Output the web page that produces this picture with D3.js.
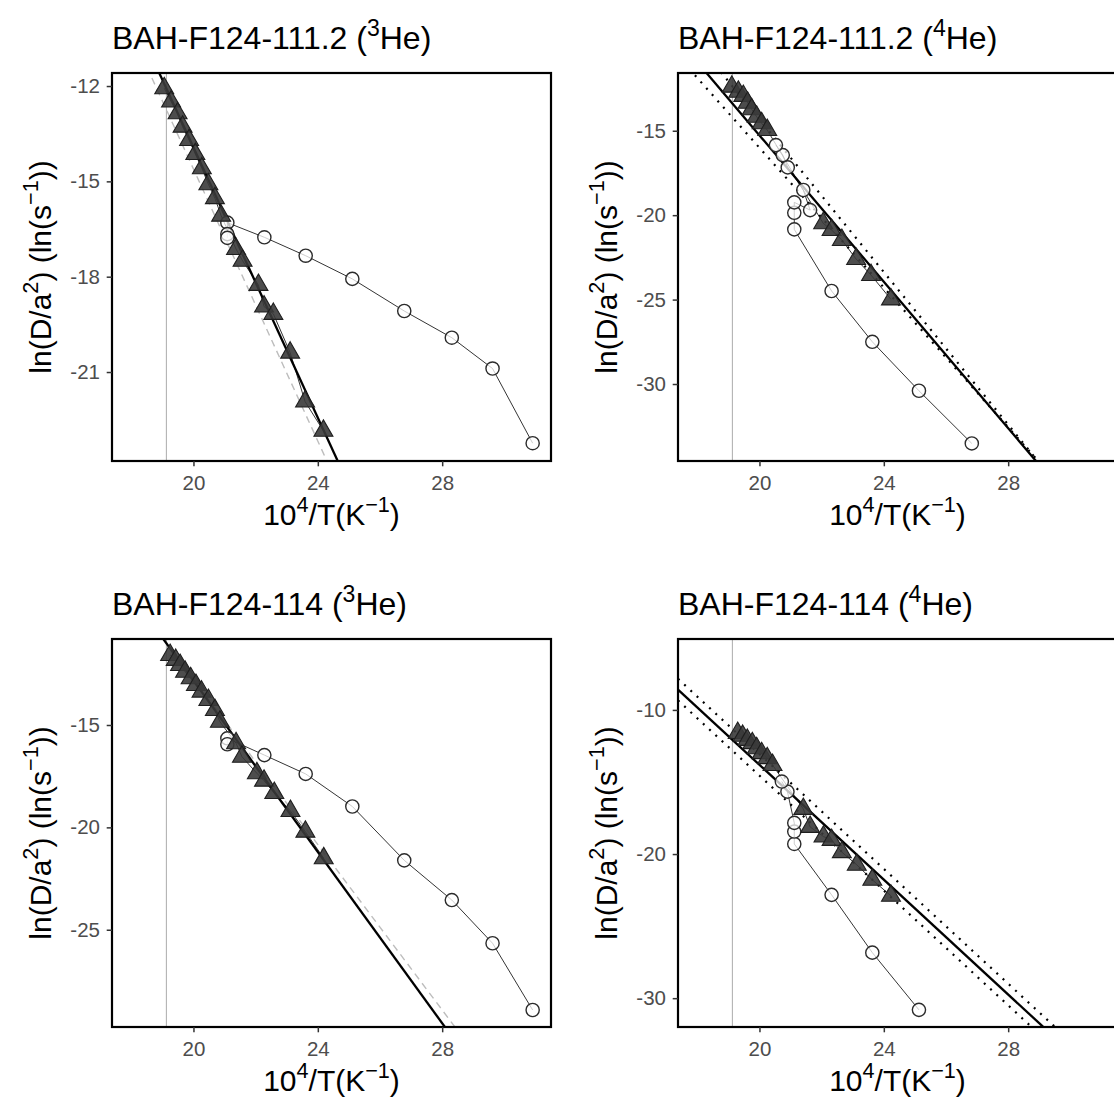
<!DOCTYPE html>
<html><head><meta charset="utf-8">
<script src="https://cdn.jsdelivr.net/npm/d3@7"></script>
<style>
body{margin:0;background:#fff;}
svg{display:block;font-family:"Liberation Sans",Arial,Helvetica,sans-serif;}
</style>
</head><body>
<svg id="chart" width="1114" height="1111"></svg>
<script>
// ---------------- DATA ----------------
const xTicks = [20, 24, 28];
const refLineX = 19.13;

// Panel 1: BAH-F124-111.2 (3He)
const p1Title = ["BAH-F124-111.2 (", {sup: "3"}, "He)"];
const p1YTicks = [-12, -15, -18, -21];
const p1TriX = [19.06,19.28,19.49,19.65,19.86,20.06,20.27,20.48,20.69,20.89,21.37,21.58,22.09,22.27,22.57,23.11,23.59,24.18];
const p1TriY = [-12.07,-12.49,-12.86,-13.28,-13.70,-14.14,-14.59,-15.09,-15.53,-16.08,-17.13,-17.50,-18.26,-18.94,-19.17,-20.39,-21.93,-22.85];
const p1CirX = [30.91,29.62,28.31,26.78,25.11,23.61,22.28,21.09,21.09,21.09];
const p1CirY = [-23.24,-20.89,-19.92,-19.08,-18.07,-17.34,-16.76,-16.30,-16.66,-16.78];
const p1Fit = [28.61, -2.127];     // intercept, slope
const p1Dash = [28.21, -2.141];

// Panel 2: BAH-F124-111.2 (4He)
const p2Title = ["BAH-F124-111.2 (", {sup: "4"}, "He)"];
const p2YTicks = [-15, -20, -25, -30];
const p2TriX = [19.11,19.32,19.48,19.62,19.75,19.91,20.07,20.25,22.05,22.32,22.65,23.11,23.59,24.23];
const p2TriY = [-12.39,-12.69,-12.94,-13.34,-13.73,-14.17,-14.56,-14.96,-20.48,-20.88,-21.47,-22.60,-23.55,-24.99];
const p2CirX = [26.83,25.13,23.63,22.32,21.12,21.12,21.12,21.63,21.41,20.91,20.75,20.53];
const p2CirY = [-33.52,-30.40,-27.50,-24.49,-20.84,-19.86,-19.24,-19.70,-18.51,-17.17,-16.44,-15.85];
const p2Fit = [28.11, -2.169];
const p2DotUpper = [30.87, -2.26];
const p2DotLower = [25.39, -2.07];

// Panel 3: BAH-F124-114 (3He)
const p3Title = ["BAH-F124-114 (", {sup: "3"}, "He)"];
const p3YTicks = [-15, -20, -25];
const p3TriX = [19.25,19.43,19.57,19.73,19.91,20.08,20.26,20.48,20.69,20.85,21.37,21.56,22.04,22.27,22.60,23.12,23.60,24.19];
const p3TriY = [-11.58,-11.82,-12.07,-12.40,-12.72,-13.05,-13.37,-13.78,-14.27,-14.84,-15.89,-16.55,-17.36,-17.72,-18.32,-19.20,-20.21,-21.51];
const p3CirX = [30.91,29.62,28.31,26.78,25.11,23.61,22.28,21.09,21.09];
const p3CirY = [-28.92,-25.66,-23.55,-21.61,-18.98,-17.39,-16.47,-15.65,-15.94];
const p3Fit = [29.01, -2.092];
const p3Dash = [27.64, -2.020];

// Panel 4: BAH-F124-114 (4He)
const p4Title = ["BAH-F124-114 (", {sup: "4"}, "He)"];
const p4YTicks = [-10, -20, -30];
const p4TriX = [19.30,19.46,19.61,19.77,19.91,20.07,20.25,20.42,21.41,21.63,22.06,22.32,22.65,23.13,23.63,24.23];
const p4TriY = [-11.60,-11.80,-12.08,-12.31,-12.66,-13.00,-13.35,-13.82,-16.87,-18.12,-18.79,-19.02,-19.87,-20.75,-21.79,-22.90];
const p4CirX = [25.13,23.63,22.32,21.12,21.12,21.12,20.90,20.72];
const p4CirY = [-30.81,-26.84,-22.83,-19.30,-18.44,-17.84,-15.67,-14.97];
const p4Fit = [26.03, -1.992];
const p4DotUpper = [26.78, -1.992];
const p4DotLower = [25.28, -1.992];

const yLabel = ["ln(D/a", {sup: "2"}, ") (ln(s", {sup: "\u22121"}, "))"];
const xLabel = ["10", {sup: "4"}, "/T(K", {sup: "\u22121"}, ")"];

// ---------------- LAYOUT ----------------
const W = 439, H = 388;
const colX = [112, 678], rowY = [73, 639];
const xDomain = [17.38, 31.5];
const tickFont = 20.5, axisTitleFont = 30, titleFont = 32;

const panels = [
  {col:0,row:0,title:p1Title,yDomain:[-23.80,-11.59],yTicks:p1YTicks,triX:p1TriX,triY:p1TriY,cirX:p1CirX,cirY:p1CirY,fit:p1Fit,dash:p1Dash},
  {col:1,row:0,title:p2Title,yDomain:[-34.56,-11.58],yTicks:p2YTicks,triX:p2TriX,triY:p2TriY,cirX:p2CirX,cirY:p2CirY,fit:p2Fit,dots:[p2DotUpper,p2DotLower]},
  {col:0,row:1,title:p3Title,yDomain:[-29.75,-10.80],yTicks:p3YTicks,triX:p3TriX,triY:p3TriY,cirX:p3CirX,cirY:p3CirY,fit:p3Fit,dash:p3Dash},
  {col:1,row:1,title:p4Title,yDomain:[-32.0,-5.08],yTicks:p4YTicks,triX:p4TriX,triY:p4TriY,cirX:p4CirX,cirY:p4CirY,fit:p4Fit,dots:[p4DotUpper,p4DotLower]}
];

const svg = d3.select("#chart");
const defs = svg.append("defs");

function rich(textSel, parts, size){
  let raised = false;
  const shift = size * 0.42;
  parts.forEach(pt => {
    if (typeof pt === "string") {
      const t = textSel.append("tspan").text(pt);
      if (raised) { t.attr("dy", shift); raised = false; }
    } else {
      textSel.append("tspan").text(pt.sup).attr("dy", -shift).attr("font-size", size * 0.72);
      raised = true;
    }
  });
}

panels.forEach((p, i) => {
  const x0 = colX[p.col], y0 = rowY[p.row];
  const g = svg.append("g").attr("transform", `translate(${x0},${y0})`);
  const x = d3.scaleLinear().domain(xDomain).range([0, W]);
  const y = d3.scaleLinear().domain(p.yDomain).range([H, 0]);

  defs.append("clipPath").attr("id", "clip" + i)
    .append("rect").attr("width", W).attr("height", H);
  const plot = g.append("g").attr("clip-path", `url(#clip${i})`);

  plot.append("line")
    .attr("x1", x(refLineX)).attr("x2", x(refLineX))
    .attr("y1", 0).attr("y2", H)
    .attr("stroke", "#b3b3b3").attr("stroke-width", 1.1);

  const lineGen = d3.line().x(d => x(d[0])).y(d => y(d[1]));
  const cir = d3.zip(p.cirX, p.cirY);
  const tri = d3.zip(p.triX, p.triY);
  const ab = c => xDomain.map(v => [v, c[0] + c[1] * v]);

  plot.append("path").attr("d", lineGen(cir))
    .attr("fill", "none").attr("stroke", "#000").attr("stroke-width", 0.8);
  plot.append("path").attr("d", lineGen(tri))
    .attr("fill", "none").attr("stroke", "#000").attr("stroke-width", 0.8);

  if (p.dash) {
    plot.append("path").attr("d", lineGen(ab(p.dash)))
      .attr("fill", "none").attr("stroke", "#bdbdbd").attr("stroke-width", 1.4)
      .attr("stroke-dasharray", "7,5");
  }
  plot.append("path").attr("d", lineGen(ab(p.fit)))
    .attr("fill", "none").attr("stroke", "#000").attr("stroke-width", 2.3);
  if (p.dots) {
    p.dots.forEach(c => {
      plot.append("path").attr("d", lineGen(ab(c)))
        .attr("fill", "none").attr("stroke", "#000").attr("stroke-width", 2.2)
        .attr("stroke-dasharray", "2,6.5");
    });
  }

  plot.selectAll("circle.pt").data(cir).join("circle").attr("class", "pt")
    .attr("cx", d => x(d[0])).attr("cy", d => y(d[1])).attr("r", 6.6)
    .attr("fill", "#fff").attr("fill-opacity", 0.75)
    .attr("stroke", "#2b2b2b").attr("stroke-width", 1.4);

  const triSym = d3.symbol(d3.symbolTriangle, 155);
  plot.selectAll("path.tri").data(tri).join("path").attr("class", "tri")
    .attr("transform", d => `translate(${x(d[0])},${y(d[1])})`)
    .attr("d", triSym)
    .attr("fill", "#3a3a3a").attr("fill-opacity", 0.9)
    .attr("stroke", "#1e1e1e").attr("stroke-width", 1.1);

  g.append("rect").attr("width", W).attr("height", H)
    .attr("fill", "none").attr("stroke", "#000").attr("stroke-width", 2.2);

  // axes
  const xa = g.append("g").attr("transform", `translate(0,${H})`)
    .call(d3.axisBottom(x).tickValues(xTicks).tickSize(5.3).tickPadding(9).tickFormat(d => String(d)));
  const ya = g.append("g")
    .call(d3.axisLeft(y).tickValues(p.yTicks).tickSize(5.3).tickPadding(6.7).tickFormat(d => String(d)));
  [xa, ya].forEach(a => {
    a.attr("font-family", null).attr("font-size", tickFont);
    a.select(".domain").remove();
    a.selectAll(".tick line").attr("stroke", "#333").attr("stroke-width", 1.5);
    a.selectAll(".tick text").attr("fill", "#4d4d4d");
  });

  // titles
  const t = g.append("text").attr("x", 0).attr("y", -24)
    .attr("font-size", titleFont).attr("fill", "#000");
  rich(t, p.title, titleFont);

  const xt = g.append("text").attr("x", W / 2).attr("y", H + 64)
    .attr("text-anchor", "middle").attr("font-size", axisTitleFont).attr("fill", "#000");
  rich(xt, xLabel, axisTitleFont);

  const yt = g.append("text")
    .attr("transform", `translate(-61,${H / 2}) rotate(-90)`)
    .attr("text-anchor", "middle").attr("font-size", axisTitleFont).attr("fill", "#000");
  rich(yt, yLabel, axisTitleFont);
});
</script>
</body></html>
